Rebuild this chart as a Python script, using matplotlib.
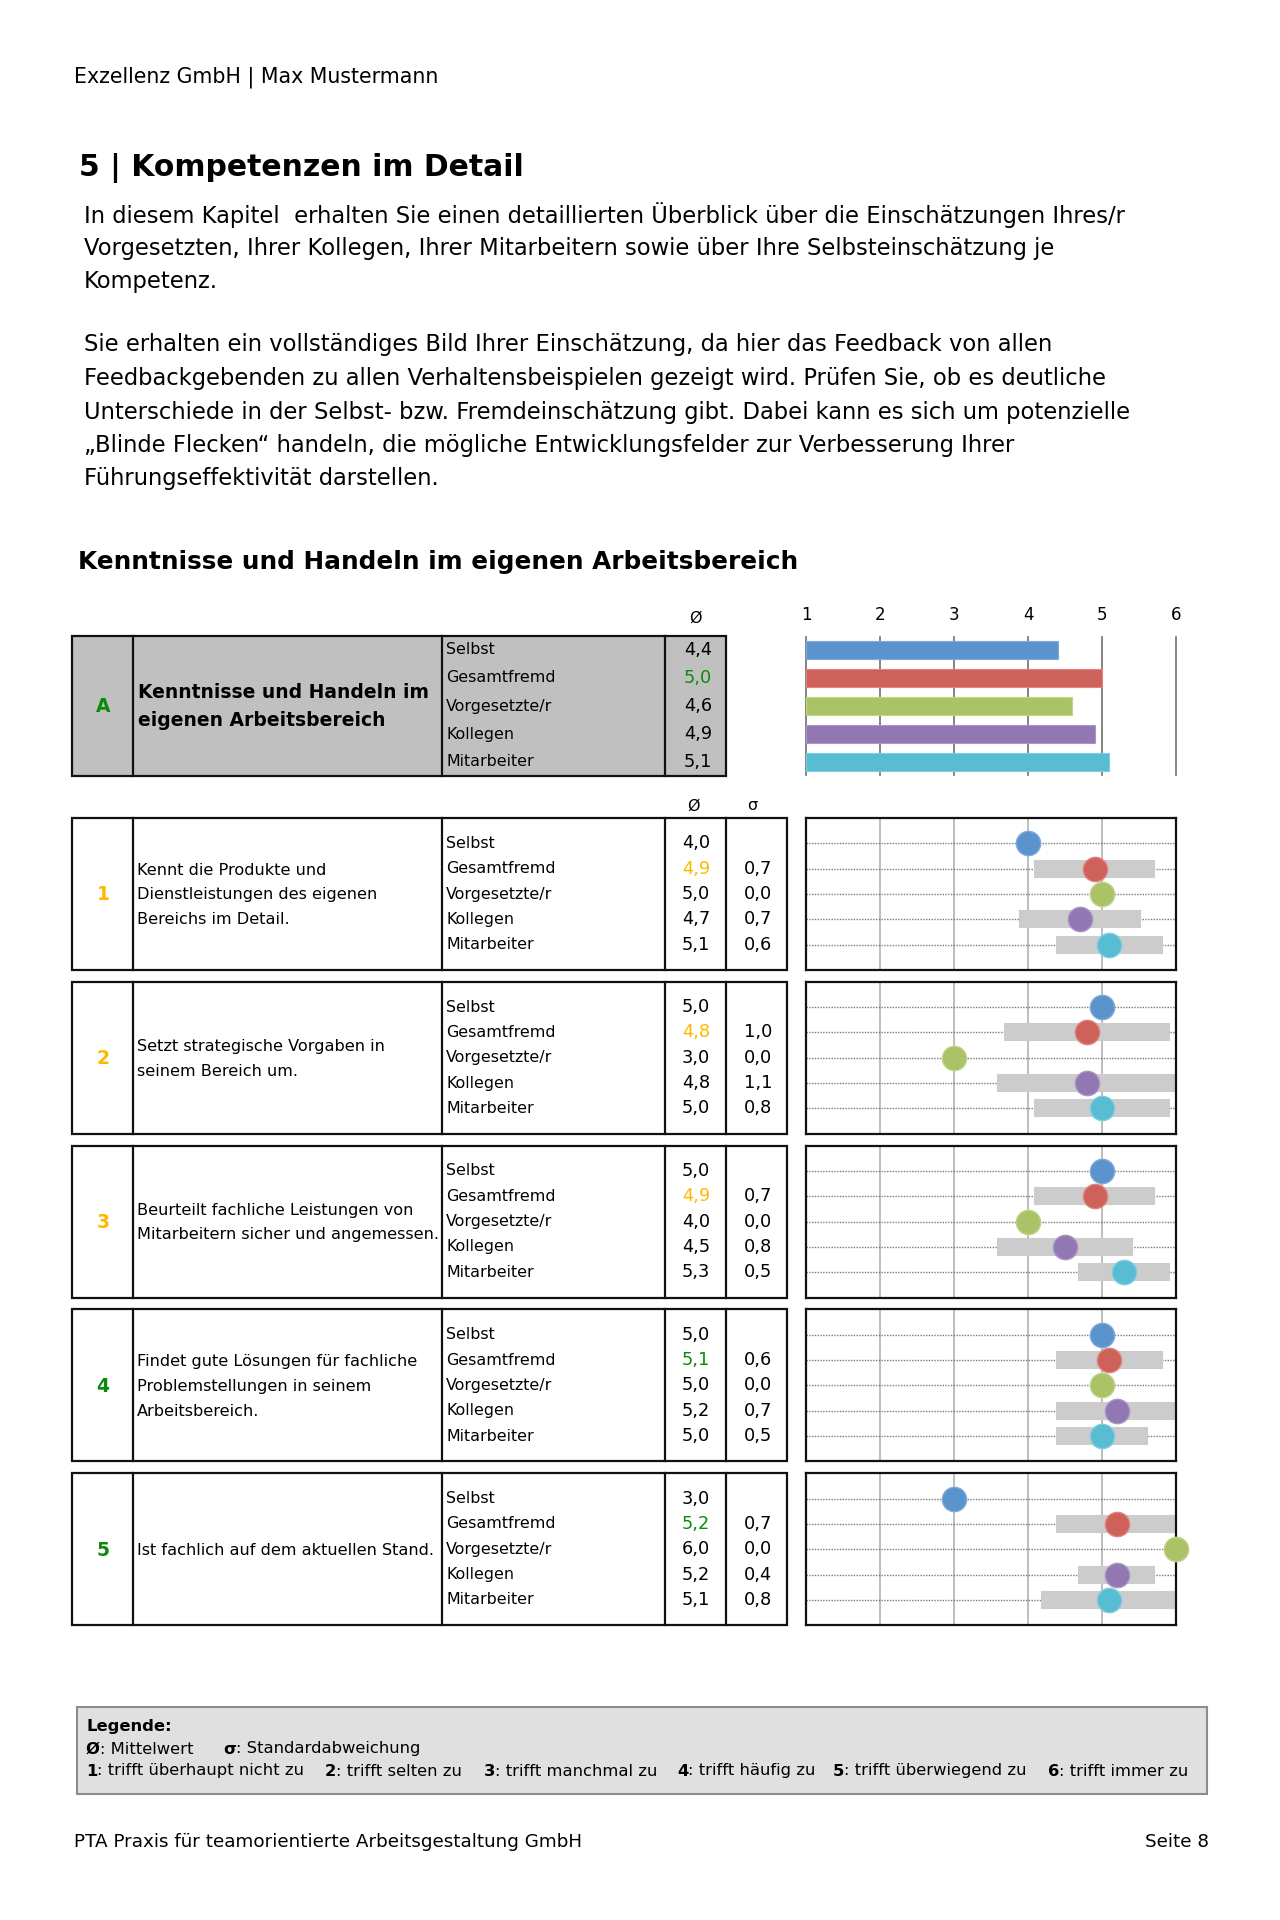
import matplotlib.pyplot as plt
from matplotlib.patches import Rectangle

plt.rcParams['font.family'] = ['DejaVu Sans']

W, H = 1280, 1920

# --- Daten ---
rater_labels = ["Selbst", "Gesamtfremd", "Vorgesetzte/r", "Kollegen", "Mitarbeiter"]
rater_colors = ["#5b93cd", "#cf615b", "#abc366", "#9178b3", "#58bcd3"]
rater_edges = ["#7fabdc", "#de8580", "#c0d488", "#a995c6", "#7fcde0"]

header_text = "Exzellenz GmbH | Max Mustermann"
title_text = "5 | Kompetenzen im Detail"
intro_lines = [
    "In diesem Kapitel  erhalten Sie einen detaillierten Überblick über die Einschätzungen Ihres/r",
    "Vorgesetzten, Ihrer Kollegen, Ihrer Mitarbeitern sowie über Ihre Selbsteinschätzung je",
    "Kompetenz.",
]
detail_lines = [
    "Sie erhalten ein vollständiges Bild Ihrer Einschätzung, da hier das Feedback von allen",
    "Feedbackgebenden zu allen Verhaltensbeispielen gezeigt wird. Prüfen Sie, ob es deutliche",
    "Unterschiede in der Selbst- bzw. Fremdeinschätzung gibt. Dabei kann es sich um potenzielle",
    "„Blinde Flecken“ handeln, die mögliche Entwicklungsfelder zur Verbesserung Ihrer",
    "Führungseffektivität darstellen.",
]
section_title = "Kenntnisse und Handeln im eigenen Arbeitsbereich"

scale_ticks = [1, 2, 3, 4, 5, 6]

summary_code = "A"
summary_lines = ["Kenntnisse und Handeln im", "eigenen Arbeitsbereich"]
summary_means = [4.4, 5.0, 4.6, 4.9, 5.1]

item_codes = ["1", "2", "3", "4", "5"]
item_lines = [
    ["Kennt die Produkte und", "Dienstleistungen des eigenen", "Bereichs im Detail."],
    ["Setzt strategische Vorgaben in", "seinem Bereich um."],
    ["Beurteilt fachliche Leistungen von", "Mitarbeitern sicher und angemessen."],
    ["Findet gute Lösungen für fachliche", "Problemstellungen in seinem", "Arbeitsbereich."],
    ["Ist fachlich auf dem aktuellen Stand."],
]
item_means = [
    [4.0, 4.9, 5.0, 4.7, 5.1],
    [5.0, 4.8, 3.0, 4.8, 5.0],
    [5.0, 4.9, 4.0, 4.5, 5.3],
    [5.0, 5.1, 5.0, 5.2, 5.0],
    [3.0, 5.2, 6.0, 5.2, 5.1],
]
item_sds = [
    [None, 0.7, 0.0, 0.7, 0.6],
    [None, 1.0, 0.0, 1.1, 0.8],
    [None, 0.7, 0.0, 0.8, 0.5],
    [None, 0.6, 0.0, 0.7, 0.5],
    [None, 0.7, 0.0, 0.4, 0.8],
]

legend_scale = ["trifft überhaupt nicht zu", "trifft selten zu", "trifft manchmal zu",
                "trifft häufig zu", "trifft überwiegend zu", "trifft immer zu"]
footer_left = "PTA Praxis für teamorientierte Arbeitsgestaltung GmbH"
footer_right = "Seite 8"


def fmt(v):
    return f"{v:.1f}".replace(".", ",")


def level_color(v):
    # gruen ab 5,0 sonst orange
    return "#0c8a0c" if v >= 5.0 else "#ffb800"


fig = plt.figure(figsize=(W / 100, H / 100), dpi=100)
page = fig.add_axes([0, 0, 1, 1])
page.set_xlim(0, W)
page.set_ylim(H, 0)
page.axis('off')


def px_axes(x0, y0, x1, y1):
    return fig.add_axes([x0 / W, 1 - y1 / H, (x1 - x0) / W, (y1 - y0) / H])


def table_frame(top, bottom, cols, fill):
    left, right = cols[0], cols[-1]
    page.add_patch(Rectangle((left, top), right - left, bottom - top,
                             facecolor=fill, edgecolor='#111111', lw=1.6))
    for x in cols[1:-1]:
        page.plot([x, x], [top, bottom], color='#111111', lw=1.6)


# --- Kopf und Text ---
page.text(74, 77, header_text, fontsize=14.8, va='center')
page.text(79, 168, title_text, fontsize=21.5, fontweight='bold', va='center')
for i, line in enumerate(intro_lines):
    page.text(84, 215 + 33.3 * i, line, fontsize=16.3, va='center')
for i, line in enumerate(detail_lines):
    page.text(84, 345 + 33.5 * i, line, fontsize=16.3, va='center')
page.text(78, 562, section_title, fontsize=17.8, fontweight='bold', va='center')

# --- Zusammenfassung A ---
a_top, a_bot = 636, 776
table_frame(a_top, a_bot, [72, 133, 442, 665, 726], '#c0c0c0')
page.text(695, 618, "Ø", fontsize=11.5, ha='center', va='center')
page.text(103, 707, summary_code, fontsize=13.5, fontweight='bold',
          color=level_color(summary_means[1]), ha='center', va='center')
for i, line in enumerate(summary_lines):
    page.text(138, 693 + 28 * i, line, fontsize=13.5, fontweight='bold', va='center')
for i, (lab, v) in enumerate(zip(rater_labels, summary_means)):
    y = a_top + 14 + 28 * i
    page.text(446, y, lab, fontsize=11.4, va='center')
    col = level_color(v) if i == 1 else 'black'
    page.text(712, y, fmt(v), fontsize=12.8, ha='right', va='center', color=col)

ax = px_axes(806, a_top + 1, 1176, a_bot - 1)
rows = list(range(len(summary_means)))
ax.barh(rows, [v - 1 for v in summary_means], left=1, height=0.62,
        color=rater_colors, edgecolor=rater_edges, lw=0.8, zorder=2)
for t in scale_ticks:
    ax.axvline(t, color='#6f6f6f', lw=1.2, zorder=1, clip_on=False)
ax.set_xlim(1, 6)
ax.set_ylim(4.46, -0.46)
ax.set_xticks(scale_ticks)
ax.set_yticks([])
ax.xaxis.tick_top()
ax.tick_params(axis='x', length=0, pad=9, labelsize=12)
for s in ax.spines.values():
    s.set_visible(False)
ax.patch.set_alpha(0)

# --- Einzelne Verhaltensbeispiele ---
page.text(693, 806, "Ø", fontsize=11.5, ha='center', va='center')
page.text(752, 806, "σ", fontsize=11.5, ha='center', va='center')

box_h = 152
for k in range(len(item_codes)):
    top = 818 + 163.8 * k
    bot = top + box_h
    mid = (top + bot) / 2
    means = item_means[k]
    sds = item_sds[k]
    table_frame(top, bot, [72, 133, 442, 665, 726, 787], 'white')
    page.text(103, mid + 1, item_codes[k], fontsize=13.5, fontweight='bold',
              color=level_color(means[1]), ha='center', va='center')
    n = len(item_lines[k])
    for j, line in enumerate(item_lines[k]):
        page.text(137, mid + 1 + (j - (n - 1) / 2) * 24.7, line, fontsize=11.65, va='center')
    for i, lab in enumerate(rater_labels):
        y = top + box_h / 6 * (i + 1)
        page.text(446, y, lab, fontsize=11.4, va='center')
        col = level_color(means[i]) if i == 1 else 'black'
        page.text(710, y, fmt(means[i]), fontsize=12.8, ha='right', va='center', color=col)
        if sds[i] is not None:
            page.text(772, y, fmt(sds[i]), fontsize=12.8, ha='right', va='center')

    ax = px_axes(806, top, 1176, bot)
    ax.set_xlim(1, 6)
    ax.set_ylim(6, 0)
    for t in scale_ticks[1:-1]:
        ax.axvline(t, color='#b3b3b3', lw=1.2, zorder=0)
    for i in range(len(rater_labels)):
        r = i + 1
        ax.axhline(r, color='#7a7a7a', lw=1.0, ls=(0, (1, 1)), zorder=1)
        if sds[i]:
            ax.plot([means[i] - sds[i], means[i] + sds[i]], [r, r], color='#cccccc',
                    lw=13, solid_capstyle='projecting', zorder=2)
        ax.scatter([means[i]], [r], s=17.5 ** 2, color=rater_colors[i],
                   edgecolor=rater_edges[i], lw=1.0, zorder=3, clip_on=False)
    ax.set_xticks([])
    ax.set_yticks([])
    for s in ax.spines.values():
        s.set_linewidth(1.6)
        s.set_color('#111111')

# --- Legende ---
page.add_patch(Rectangle((77, 1707), 1130, 87, facecolor='#e0e0e0',
                         edgecolor='#8c8c8c', lw=1.5))
renderer = fig.canvas.get_renderer()


def bold_lead(x, y, lead, rest, size=11.8):
    t = page.text(x, y, lead, fontsize=size, fontweight='bold', va='center')
    w = t.get_window_extent(renderer).width
    page.text(x + w, y, rest, fontsize=size, va='center')


page.text(86, 1727, "Legende:", fontsize=11.8, fontweight='bold', va='center')
bold_lead(86, 1749, "Ø", ": Mittelwert")
bold_lead(223, 1749, "σ", ": Standardabweichung")
legend_x = [86, 325, 484, 677, 833, 1048]
for x, num, txt in zip(legend_x, scale_ticks, legend_scale):
    bold_lead(x, 1771, str(num), ": " + txt)

# --- Fusszeile ---
page.text(74, 1842, footer_left, fontsize=13.2, va='center')
page.text(1209, 1842, footer_right, fontsize=13.2, ha='right', va='center')

fig.savefig("out.png", dpi=100)
